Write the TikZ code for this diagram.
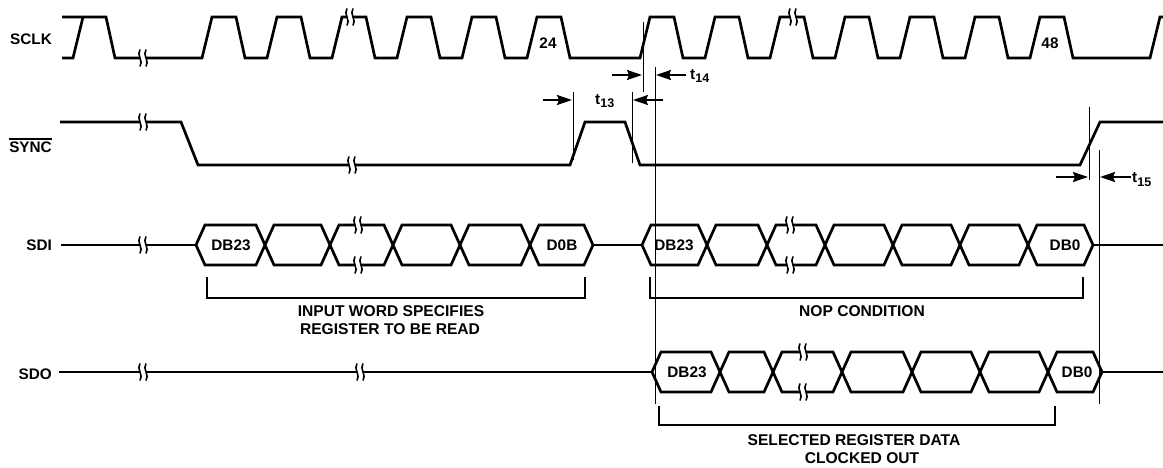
\documentclass[tikz,border=0pt]{standalone}
\usepackage{fontspec}
\setmainfont{Liberation Sans}
\usetikzlibrary{arrows.meta}
\newcommand\cellhex[3]{%
  \draw[sig] (#1,#3) -- (#1+9,#3-20) -- (#2-9,#3-20) -- (#2,#3) -- (#2-9,#3+20) -- (#1+9,#3+20) -- cycle;}
\tikzset{
  sig/.style={line width=2.7pt, line join=miter, line cap=butt},
  vline/.style={line width=1pt},
  brack/.style={line width=2.8pt, line join=miter},
  lab/.style={font=\fontsize{15.3}{18}\selectfont\bfseries, inner sep=0pt},
  blab/.style={font=\fontsize{15.6}{18}\selectfont\bfseries, inner sep=0pt, align=center},
  dimarrow/.style={line width=1.8pt, -{Stealth[length=15pt,width=10pt,inset=2pt]}},
  pics/brk/.style={code={
    \fill[white] (-3,-8.5) .. controls (-7,-3) and (1,3) .. (-3,8.5) -- (3,8.5) .. controls (7,3) and (-1,-3) .. (3,-8.5) -- cycle;
    \draw[line width=1.6pt] (-3,-8.5) .. controls (-7,-3) and (1,3) .. (-3,8.5);
    \draw[line width=1.6pt] (3,-8.5) .. controls (-1,-3) and (7,3) .. (3,8.5);
  }}
}
\begin{document}
\begin{tikzpicture}[x=1pt,y=-1pt]
\useasboundingbox (0,0) rectangle (1163,468);
% ---------- SCLK ----------
\draw[sig] (62,58) -- (73,58) -- (83,17);
\draw[sig] (62,17) -- (106,17) -- (115,58)
  \foreach \r in {202,267,332,397,462,527} { -- (\r,58) -- ++(10,-41) -- ++(24,0) -- ++(9,41) }
  \foreach \r in {640,705,770,835,900,965,1030} { -- (\r,58) -- ++(10,-41) -- ++(24,0) -- ++(9,41) }
  -- (1150,58) -- (1160,17) -- (1164,17);
\pic at (143,58) {brk};
\pic at (350,17) {brk};
\pic at (793,17) {brk};
% ---------- SYNC ----------
\draw[sig] (60,122) -- (181,122) -- (198,165) -- (570,165) -- (585,122) -- (625,122) -- (640,165) -- (1080,165) -- (1100,122) -- (1164,122);
\pic at (143,122) {brk};
\pic at (352,165) {brk};
% ---------- SDI ----------
\draw[sig] (61,245) -- (196,245);
\draw[sig] (593,245) -- (642,245);
\draw[sig] (1093,245) -- (1164,245);
\foreach \a/\b in {196/265,265/330,330/393,393/460,460/530,530/593} {\cellhex{\a}{\b}{245}}
\foreach \a/\b in {642/707,707/767,767/825,825/893,893/960,960/1028,1028/1093} {\cellhex{\a}{\b}{245}}
\pic at (143,245) {brk};
\pic at (358,225) {brk};
\pic at (358,265) {brk};
\pic at (790,225) {brk};
\pic at (790,265) {brk};
% ---------- SDO ----------
\draw[sig] (59,372) -- (652,372);
\draw[sig] (1102,372) -- (1164,372);
\foreach \a/\b in {652/720,720/773,773/842,842/912,912/980,980/1048,1048/1102} {\cellhex{\a}{\b}{372}}
\pic at (143,372) {brk};
\pic at (360,372) {brk};
\pic at (803,352) {brk};
\pic at (803,392) {brk};
% ---------- timing reference lines ----------
\draw[vline] (643,22) -- (643,92);
\draw[vline] (655,67) -- (655,404);
\draw[vline] (573,92) -- (573,160);
\draw[vline] (632,92) -- (632,163);
\draw[vline] (1089,107) -- (1089,180);
\draw[vline] (1099,150) -- (1099,404);
% ---------- dimension arrows ----------
\coordinate (t14a) at (612,75); \coordinate (t14b) at (642,75);
\coordinate (t14c) at (686,75); \coordinate (t14d) at (656,75);
\draw[dimarrow] (t14a) -- (t14b);
\draw[dimarrow] (t14c) -- (t14d);
\coordinate (t13a) at (543,100); \coordinate (t13b) at (572,100);
\coordinate (t13c) at (663,100); \coordinate (t13d) at (633,100);
\draw[dimarrow] (t13a) -- (t13b);
\draw[dimarrow] (t13c) -- (t13d);
\coordinate (t15a) at (1056,177); \coordinate (t15b) at (1088,177);
\coordinate (t15c) at (1131,177); \coordinate (t15d) at (1100,177);
\draw[dimarrow] (t15a) -- (t15b);
\draw[dimarrow] (t15c) -- (t15d);
\node[lab, anchor=base west] (lt14) at (690,80) {t\raisebox{-3pt}{\fontsize{12.5}{14}\selectfont 14}};
\node[lab, anchor=base west] (lt13) at (595,105) {t\raisebox{-3pt}{\fontsize{12.5}{14}\selectfont 13}};
\node[lab, anchor=base west] (lt15) at (1132,183) {t\raisebox{-3pt}{\fontsize{12.5}{14}\selectfont 15}};
% ---------- brackets ----------
\draw[brack] (207,277) -- (207,298) -- (585,298) -- (585,277);
\draw[brack] (650,277) -- (650,298) -- (1083,298) -- (1083,277);
\draw[brack] (659,406) -- (659,425) -- (1055,425) -- (1055,406);
% ---------- labels ----------
\node[lab, anchor=base east] (nsclk) at (52,45) {SCLK};
\node[lab, anchor=base east] (nsync) at (52,153) {SYNC};
\draw[line width=1.3pt] ([yshift=3pt]nsync.north west) -- ([yshift=3pt]nsync.north east);
\node[lab, anchor=base east] (nsdi) at (52,251) {SDI};
\node[lab, anchor=base east] (nsdo) at (52,379) {SDO};
\node[lab] (n24) at (548,43) {24};
\node[lab] (n48) at (1050,43) {48};
\node[lab] (c1) at (231,245) {DB23};
\node[lab] (c2) at (562,245) {D0B};
\node[lab] (c3) at (674,245) {DB23};
\node[lab] (c4) at (1065,245) {DB0};
\node[lab] (c5) at (687,372) {DB23};
\node[lab] (c6) at (1077,372) {DB0};
\node[blab] (b1) at (391,311) {INPUT WORD SPECIFIES};
\node[blab] (b2) at (390,329) {REGISTER TO BE READ};
\node[blab] (b3) at (862,311) {NOP CONDITION};
\node[blab] (b4) at (854,440) {SELECTED REGISTER DATA};
\node[blab] (b5) at (862,458) {CLOCKED OUT};
\end{tikzpicture}
\end{document}
